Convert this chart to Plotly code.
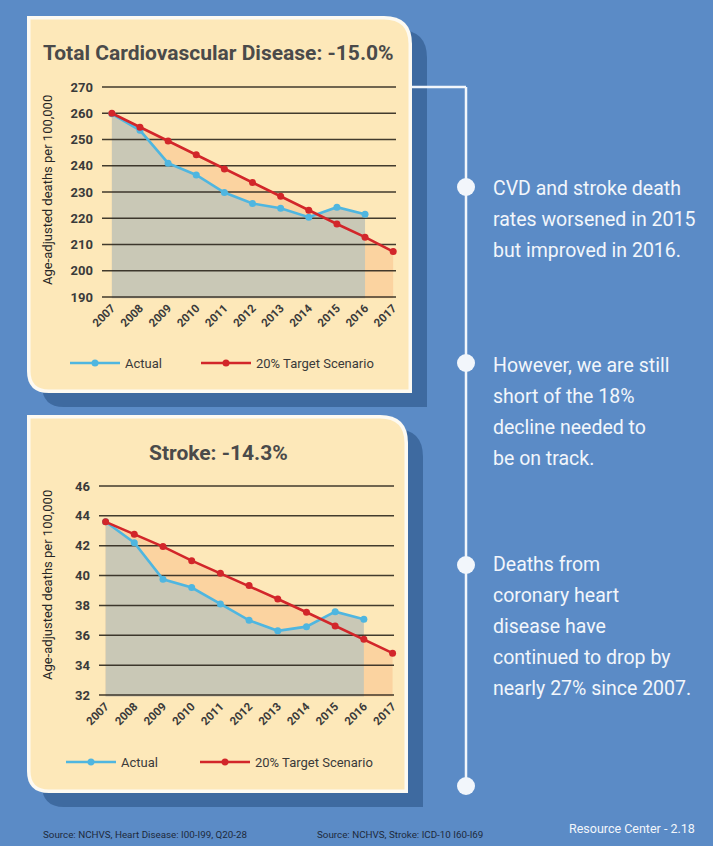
import plotly.graph_objects as go

# ---------------- data ----------------
years = [2007, 2008, 2009, 2010, 2011, 2012, 2013, 2014, 2015, 2016, 2017]
year_labels = ["2007", "2008", "2009", "2010", "2011", "2012", "2013", "2014", "2015", "2016", "2017"]
actual_years = [2007, 2008, 2009, 2010, 2011, 2012, 2013, 2014, 2015, 2016]

cvd_actual = [259.8, 253.5, 241.0, 236.5, 229.8, 225.6, 223.8, 220.4, 224.2, 221.5]
cvd_target = [260.0, 254.7, 249.4, 244.2, 238.8, 233.6, 228.4, 223.0, 217.8, 212.8, 207.3]
cvd_ticks = [190, 200, 210, 220, 230, 240, 250, 260, 270]

stroke_actual = [43.6, 42.2, 39.75, 39.2, 38.1, 37.0, 36.3, 36.58, 37.58, 37.07]
stroke_target = [43.6, 42.76, 41.94, 41.0, 40.15, 39.33, 38.43, 37.54, 36.63, 35.73, 34.8]
stroke_ticks = [32, 34, 36, 38, 40, 42, 44, 46]

cvd_title = "Total Cardiovascular Disease: -15.0%"
stroke_title = "Stroke: -14.3%"
y_title = "Age-adjusted deaths per 100,000"
series_names = ["Actual", "20% Target Scenario"]

note1 = ["CVD and stroke death", "rates worsened in 2015", "but improved in 2016."]
note2 = ["However, we are still", "short of the 18%", "decline needed to", "be on track."]
note3 = ["Deaths from", "coronary heart", "disease have", "continued to drop by", "nearly 27% since 2007."]

sources = ["Source: NCHVS, Heart Disease: I00-I99, Q20-28", "Source: NCHVS, Stroke: ICD-10 I60-I69"]
page_label = "Resource Center - 2.18"

# ---------------- style ----------------
W, H = 713, 846
FONT = "Roboto, 'Liberation Sans', sans-serif"
BLUE_BG = "#5b8bc6"
SHADOW = "#3e6aa0"
CREAM = "#fde8b9"
BORDER = "#fdfaf2"
GRAY_FILL = "#c9c8b6"
ORANGE_FILL = "#fbd3a0"
LINE_BLUE = "#4fb6e0"
LINE_RED = "#d2262a"
GRID = "rgba(40,34,25,0.88)"
TXT = "#3a3a3a"
WHITE = "#f2f6fb"


def X(p):
    return p / W


def Y(p):
    return 1 - p / H


def panel_path(x0, y0, x1, y1, r_tr, r_bl):
    pts = [
        ("M", (x0, y0)),
        ("L", (x1 - r_tr, y0)),
        ("Q", (x1, y0), (x1, y0 + r_tr)),
        ("L", (x1, y1)),
        ("L", (x0 + r_bl, y1)),
        ("Q", (x0, y1), (x0, y1 - r_bl)),
    ]
    s = ""
    for item in pts:
        cmd = item[0]
        coords = " ".join(f"{X(a):.5f},{Y(b):.5f}" for a, b in item[1:])
        s += f"{cmd} {coords} "
    return s + "Z"


fig = go.Figure()

panels = [
    dict(x0=27, y0=16, x1=412, y1=393),
    dict(x0=27, y0=415, x1=408, y1=793),
]
B = 3.5
shapes = []
for p in panels:
    shapes.append(dict(type="path", xref="paper", yref="paper", layer="below",
                       path=panel_path(p["x0"] + 15, p["y0"] + 14, p["x1"] + 15, p["y1"] + 14, 28, 22),
                       fillcolor=SHADOW, line=dict(width=0)))
    shapes.append(dict(type="path", xref="paper", yref="paper", layer="below",
                       path=panel_path(p["x0"], p["y0"], p["x1"], p["y1"], 28, 22),
                       fillcolor=BORDER, line=dict(width=0)))
    shapes.append(dict(type="path", xref="paper", yref="paper", layer="below",
                       path=panel_path(p["x0"] + B, p["y0"] + B, p["x1"] - B, p["y1"] - B, 28 - B, 22 - B),
                       fillcolor=CREAM, line=dict(width=0)))

# connector lines and dots
shapes.append(dict(type="line", xref="paper", yref="paper", x0=X(412), x1=X(466), y0=Y(87), y1=Y(87),
                   line=dict(color=WHITE, width=2.5)))
shapes.append(dict(type="line", xref="paper", yref="paper", x0=X(466), x1=X(466), y0=Y(87), y1=Y(786),
                   line=dict(color=WHITE, width=2.5)))
for cy in [187, 363, 565, 786]:
    shapes.append(dict(type="circle", xref="paper", yref="paper", x0=X(457), x1=X(475), y0=Y(cy - 9),
                       y1=Y(cy + 9), fillcolor=WHITE, line=dict(width=0)))

# ---------------- subplots ----------------
charts = [
    dict(xa="x", ya="y", actual=cvd_actual, target=cvd_target, ticks=cvd_ticks,
         xrange=[2006.65, 2017.1], xdom=[102, 396], yrange=[189.5, 270.5], ydom=[87 - 1.3, 297 + 1.3],
         legends=["legend", "legend2"]),
    dict(xa="x2", ya="y2", actual=stroke_actual, target=stroke_target, ticks=stroke_ticks,
         xrange=[2006.77, 2017.05], xdom=[99, 394], yrange=[31.9, 46.1], ydom=[486 - 1.5, 695 + 1.5],
         legends=["legend3", "legend4"]),
]

for c in charts:
    # fills
    fig.add_trace(go.Scatter(x=years, y=c["target"], xaxis=c["xa"], yaxis=c["ya"], mode="none",
                             fill="tozeroy", fillcolor=ORANGE_FILL, showlegend=False, hoverinfo="skip"))
    fig.add_trace(go.Scatter(x=actual_years, y=c["actual"], xaxis=c["xa"], yaxis=c["ya"], mode="none",
                             fill="tozeroy", fillcolor=GRAY_FILL, showlegend=False, hoverinfo="skip"))
    # grid lines drawn above fills
    for t in c["ticks"]:
        fig.add_trace(go.Scatter(x=c["xrange"], y=[t, t], xaxis=c["xa"], yaxis=c["ya"], mode="lines",
                                 line=dict(color=GRID, width=1.5), showlegend=False, hoverinfo="skip"))
    # data lines
    fig.add_trace(go.Scatter(x=actual_years, y=c["actual"], xaxis=c["xa"], yaxis=c["ya"], mode="lines+markers",
                             name=series_names[0], line=dict(color=LINE_BLUE, width=2.6),
                             marker=dict(size=7, color=LINE_BLUE), cliponaxis=False, legend=c["legends"][0]))
    fig.add_trace(go.Scatter(x=years, y=c["target"], xaxis=c["xa"], yaxis=c["ya"], mode="lines+markers",
                             name=series_names[1], line=dict(color=LINE_RED, width=2.6),
                             marker=dict(size=7, color=LINE_RED), cliponaxis=False, legend=c["legends"][1]))

ytick_font = dict(family=FONT, size=13, color=TXT, weight="bold")
xtick_font = dict(family=FONT, size=11.5, color=TXT, weight="bold")
layout_axes = {}
for i, c in enumerate(charts):
    sfx = "" if i == 0 else "2"
    layout_axes["xaxis" + sfx] = dict(
        domain=[X(c["xdom"][0]), X(c["xdom"][1])], range=c["xrange"], anchor="y" + sfx,
        tickvals=years, ticktext=year_labels, tickangle=-45, showgrid=False, zeroline=False,
        showline=False, ticks="", tickfont=xtick_font, fixedrange=True, automargin=False)
    layout_axes["yaxis" + sfx] = dict(
        domain=[Y(c["ydom"][1]), Y(c["ydom"][0])], range=c["yrange"], anchor="x" + sfx,
        tickvals=c["ticks"], showgrid=False, zeroline=False, showline=False, ticks="",
        tickfont=ytick_font, ticklabelstandoff=8, fixedrange=True, automargin=False)

annotations = [
    dict(text=f"<b>{cvd_title}</b>", x=X(218), y=Y(53), xref="paper", yref="paper", showarrow=False,
         font=dict(family=FONT, size=21, color="#4a4a4a"), xanchor="center", yanchor="middle"),
    dict(text=f"<b>{stroke_title}</b>", x=X(218), y=Y(453), xref="paper", yref="paper", showarrow=False,
         font=dict(family=FONT, size=21, color="#4a4a4a"), xanchor="center", yanchor="middle"),
    dict(text=y_title, x=X(47), y=Y(190), xref="paper", yref="paper", showarrow=False, textangle=-90,
         font=dict(family=FONT, size=13, color="#262626"), xanchor="center", yanchor="middle"),
    dict(text=y_title, x=X(47), y=Y(585), xref="paper", yref="paper", showarrow=False, textangle=-90,
         font=dict(family=FONT, size=13, color="#262626"), xanchor="center", yanchor="middle"),
]

for lines, y_start in [(note1, 189), (note2, 365), (note3, 564)]:
    for k, line in enumerate(lines):
        annotations.append(dict(text=line, x=X(491), y=Y(y_start + 31 * k), xref="paper", yref="paper",
                                showarrow=False, xanchor="left", yanchor="middle",
                                font=dict(family=FONT, size=19.5, color=WHITE)))

annotations.append(dict(text=sources[0], x=X(41), y=Y(834), xref="paper", yref="paper", showarrow=False,
                        xanchor="left", yanchor="middle", font=dict(family=FONT, size=9.8, color="#1d2a3c")))
annotations.append(dict(text=sources[1], x=X(315), y=Y(834), xref="paper", yref="paper", showarrow=False,
                        xanchor="left", yanchor="middle", font=dict(family=FONT, size=9.8, color="#1d2a3c")))
annotations.append(dict(text=page_label, x=X(697), y=Y(828), xref="paper", yref="paper", showarrow=False,
                        xanchor="right", yanchor="middle", font=dict(family=FONT, size=12.5, color=WHITE)))

legend_style = dict(orientation="h", xanchor="left", yanchor="middle", bgcolor="rgba(0,0,0,0)",
                    font=dict(family=FONT, size=13, color=TXT), itemwidth=50,
                    itemclick=False, itemdoubleclick=False)

fig.update_layout(
    template="none",
    width=W, height=H, autosize=False, margin=dict(l=0, r=0, t=0, b=0, pad=0),
    paper_bgcolor=BLUE_BG, plot_bgcolor="rgba(0,0,0,0)",
    shapes=shapes, annotations=annotations, showlegend=True,
    legend=dict(legend_style, x=X(65), y=Y(363)),
    legend2=dict(legend_style, x=X(196), y=Y(363)),
    legend3=dict(legend_style, x=X(61), y=Y(762)),
    legend4=dict(legend_style, x=X(195), y=Y(762)),
    hovermode=False,
    **layout_axes,
)

fig.write_html("out.html", config={"displayModeBar": False})
